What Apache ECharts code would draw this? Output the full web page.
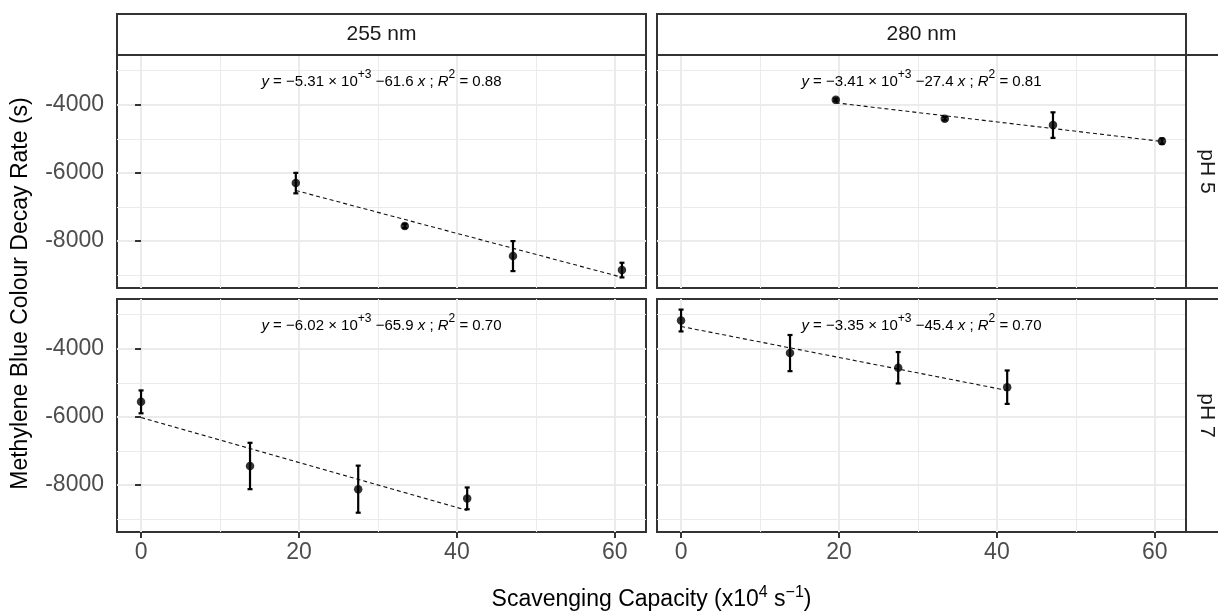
<!DOCTYPE html>
<html><head><meta charset="utf-8">
<script src="https://cdn.jsdelivr.net/npm/echarts@6/dist/echarts.min.js"></script>
<style>html,body{margin:0;padding:0;background:#fff}#chart{width:1218px;height:613px}</style>
</head><body><div id="chart"></div>
<script>
// ---------- data ----------
const wavelengths = ['255 nm', '280 nm'];
const phLevels = ['pH 5', 'pH 7'];
const capacityPH5 = [19.6, 33.4, 47.1, 60.9];
const capacityPH7 = [0, 13.8, 27.5, 41.3];
const rate255pH5 = [-6300, -7560, -8440, -8850];
const sd255pH5   = [300, 60, 440, 215];
const rate280pH5 = [-3860, -4410, -4600, -5070];
const sd280pH5   = [40, 50, 375, 80];
const rate255pH7 = [-5560, -7440, -8120, -8390];
const sd255pH7   = [335, 680, 690, 320];
const rate280pH7 = [-3175, -4130, -4560, -5130];
const sd280pH7   = [320, 530, 460, 490];
// fitted lines, panel order: 255/pH5, 280/pH5, 255/pH7, 280/pH7
const fitIntercept = [-5310, -3410, -6020, -3350];
const fitSlope = [-61.6, -27.4, -65.9, -45.4];
const interceptText = ['5.31', '3.41', '6.02', '3.35'];
const slopeText = ['61.6', '27.4', '65.9', '45.4'];
const r2Text = ['0.88', '0.81', '0.70', '0.70'];
const xMajorTicks = [0, 20, 40, 60];
const xMinorTicks = [10, 30, 50];
const yMajorTicks = [-8000, -6000, -4000];
const yMinorTicks = [-9000, -7000, -5000, -3000];

// ---------- layout ----------
const FONT = "'Liberation Sans', Arial, sans-serif";
const colLeft = [117, 657];
const rowTop = [55, 299];
const PW = 529, PH = 233;
const STRIP = 41;

const panels = [
  {col: 0, row: 0, x: capacityPH5, y: rate255pH5, e: sd255pH5},
  {col: 1, row: 0, x: capacityPH5, y: rate280pH5, e: sd280pH5},
  {col: 0, row: 1, x: capacityPH7, y: rate255pH7, e: sd255pH7},
  {col: 1, row: 1, x: capacityPH7, y: rate280pH7, e: sd280pH7}
];

// shared scales with 5% expansion (ggplot default)
let xs = [], ys = [];
panels.forEach((p, i) => {
  p.x.forEach((xv, j) => {
    xs.push(xv);
    ys.push(p.y[j] - p.e[j], p.y[j] + p.e[j]);
  });
  const x0 = Math.min(...p.x), x1 = Math.max(...p.x);
  ys.push(fitIntercept[i] + fitSlope[i] * x0, fitIntercept[i] + fitSlope[i] * x1);
});
const xLo = Math.min(...xs), xHi = Math.max(...xs);
const yLo = Math.min(...ys), yHi = Math.max(...ys);
const xMin = xLo - 0.05 * (xHi - xLo), xMax = xHi + 0.05 * (xHi - xLo);
const yMin = yLo - 0.05 * (yHi - yLo), yMax = yHi + 0.05 * (yHi - yLo);

const grids = [], xAxes = [], yAxes = [], series = [], graphics = [];

panels.forEach((p, i) => {
  grids.push({left: colLeft[p.col], top: rowTop[p.row], width: PW, height: PH,
    show: true, borderColor: '#333', borderWidth: 2, backgroundColor: 'transparent', containLabel: false});
  const showX = p.row === 1, showY = p.col === 0;
  // main axes
  xAxes.push({gridIndex: i, type: 'value', min: xMin, max: xMax, position: 'bottom',
    axisLine: {show: false},
    axisTick: {show: showX, length: 6, lineStyle: {color: '#333', width: 2}, customValues: xMajorTicks},
    axisLabel: {show: showX, customValues: xMajorTicks, margin: 9, color: '#4d4d4d', fontSize: 23, fontFamily: FONT, formatter: v => String(v)},
    splitLine: {show: true, lineStyle: {color: '#ebebeb', width: 2}}
  });
  yAxes.push({gridIndex: i, type: 'value', min: yMin, max: yMax, position: 'left',
    axisLine: {show: false},
    axisTick: {show: showY, length: 6, lineStyle: {color: '#333', width: 2}, customValues: yMajorTicks},
    axisLabel: {show: showY, customValues: yMajorTicks, margin: 13, color: '#4d4d4d', fontSize: 23, fontFamily: FONT, formatter: v => String(v)},
    splitLine: {show: true, lineStyle: {color: '#ebebeb', width: 2}}
  });
  // minor grid axes
  xAxes.push({gridIndex: i, type: 'value', min: xMin, max: xMax, position: 'top',
    axisLine: {show: false}, axisTick: {show: false, customValues: xMinorTicks},
    axisLabel: {show: false, customValues: xMinorTicks},
    splitLine: {show: true, lineStyle: {color: '#ebebeb', width: 1.1}}
  });
  yAxes.push({gridIndex: i, type: 'value', min: yMin, max: yMax, position: 'right',
    axisLine: {show: false}, axisTick: {show: false, customValues: yMinorTicks},
    axisLabel: {show: false, customValues: yMinorTicks},
    splitLine: {show: true, lineStyle: {color: '#ebebeb', width: 1.1}}
  });
  const xi = 2 * i, yi = 2 * i;
  const x0 = Math.min(...p.x), x1 = Math.max(...p.x);
  series.push({type: 'line', xAxisIndex: xi, yAxisIndex: yi, symbol: 'none', silent: true, z: 3,
    lineStyle: {color: '#111', width: 1.1, type: [4, 3]},
    data: [[x0, fitIntercept[i] + fitSlope[i] * x0], [x1, fitIntercept[i] + fitSlope[i] * x1]]
  });
  series.push({type: 'custom', xAxisIndex: xi, yAxisIndex: yi, z: 4, silent: true,
    encode: {x: 0, y: 1},
    data: p.x.map((xv, j) => [xv, p.y[j], p.e[j]]),
    renderItem: (params, api) => {
      const xv = api.value(0), yv = api.value(1), ev = api.value(2);
      const a = api.coord([xv, yv + ev]), b = api.coord([xv, yv - ev]);
      const st = {stroke: '#000', lineWidth: 2.2};
      return {type: 'group', children: [
        {type: 'line', shape: {x1: a[0], y1: a[1], x2: b[0], y2: b[1]}, style: st},
        {type: 'line', shape: {x1: a[0] - 2.5, y1: a[1], x2: a[0] + 2.5, y2: a[1]}, style: st},
        {type: 'line', shape: {x1: b[0] - 2.5, y1: b[1], x2: b[0] + 2.5, y2: b[1]}, style: st}
      ]};
    }
  });
  series.push({type: 'scatter', xAxisIndex: xi, yAxisIndex: yi, symbol: 'circle', symbolSize: 8.5, z: 5, silent: true,
    itemStyle: {color: '#000'},
    data: p.x.map((xv, j) => [xv, p.y[j]])
  });
  // equation label
  graphics.push({type: 'text', x: colLeft[p.col] + PW / 2, y: rowTop[p.row] + 27, z: 10,
    style: {
      text: '{i|y}{n| = \u2212' + interceptText[i] + ' \u00d7 10}{s|+3}{n| \u2212' + slopeText[i] + ' }{i|x}{n| ; }{i|R}{s|2}{n| = ' + r2Text[i] + '}',
      align: 'center', verticalAlign: 'middle', fill: '#000', fontFamily: FONT,
      rich: {
        n: {fontSize: 15, lineHeight: 27, fontFamily: FONT, fill: '#000'},
        i: {fontSize: 15, lineHeight: 27, fontFamily: FONT, fontStyle: 'italic', fill: '#000'},
        s: {fontSize: 12, lineHeight: 12, fontFamily: FONT, verticalAlign: 'top', fill: '#000'}
      }
    }
  });
});

// strips
wavelengths.forEach((w, c) => {
  graphics.push({type: 'rect', z: 20, shape: {x: colLeft[c], y: rowTop[0] - STRIP, width: PW, height: STRIP},
    style: {fill: '#fff', stroke: '#333', lineWidth: 2}});
  graphics.push({type: 'text', z: 21, x: colLeft[c] + PW / 2, y: rowTop[0] - STRIP / 2,
    style: {text: w, align: 'center', verticalAlign: 'middle', fontSize: 21, fontFamily: FONT, fill: '#1a1a1a'}});
});
phLevels.forEach((ph, r) => {
  const sx = colLeft[1] + PW;
  graphics.push({type: 'rect', z: 20, shape: {x: sx, y: rowTop[r], width: STRIP, height: PH},
    style: {fill: '#fff', stroke: '#333', lineWidth: 2}});
  graphics.push({type: 'text', z: 21, x: sx + STRIP / 2, y: rowTop[r] + PH / 2, rotation: -Math.PI / 2,
    style: {text: ph, align: 'center', verticalAlign: 'middle', fontSize: 21, fontFamily: FONT, fill: '#1a1a1a'}});
});
// axis titles
graphics.push({type: 'text', z: 21, x: (colLeft[0] + colLeft[1] + PW) / 2, y: 600,
  style: {text: '{n|Scavenging Capacity (x10}{s|4}{n| s}{s|\u22121}{n|)}', align: 'center', verticalAlign: 'middle', fill: '#000',
    rich: {
      n: {fontSize: 23, lineHeight: 30, fontFamily: FONT, fill: '#000'},
      s: {fontSize: 16, lineHeight: 18, fontFamily: FONT, verticalAlign: 'top', fill: '#000'}
    }}});
graphics.push({type: 'text', z: 21, x: 21, y: (rowTop[0] + rowTop[1] + PH) / 2, rotation: Math.PI / 2,
  style: {text: 'Methylene Blue Colour Decay Rate (s)', align: 'center', verticalAlign: 'middle', fontSize: 23, fontFamily: FONT, fill: '#000'}});

const chart = echarts.init(document.getElementById('chart'), null, {renderer: 'canvas'});
chart.setOption({
  animation: false,
  backgroundColor: '#fff',
  grid: grids, xAxis: xAxes, yAxis: yAxes, series: series, graphic: graphics
});
</script></body></html>
